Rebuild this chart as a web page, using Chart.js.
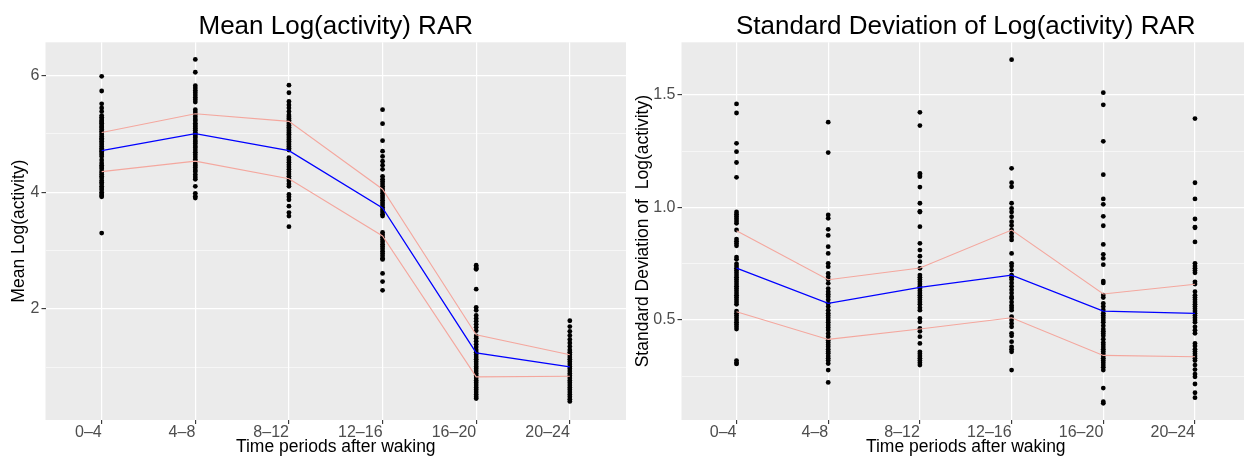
<!DOCTYPE html>
<html>
<head>
<meta charset="utf-8">
<script src="https://cdn.jsdelivr.net/npm/chart.js@4.4.0/dist/chart.umd.min.js"></script>
<style>
  html, body { margin:0; padding:0; background:#fff; overflow:hidden; width:1244px; height:456px; }
  .panel { position:absolute; top:0; height:456px; }
</style>
</head>
<body>
<div class="panel" style="left:0; width:630px;"><canvas id="meanChart" width="630" height="456"></canvas></div>
<div class="panel" style="left:630px; width:626px;"><canvas id="sdChart" width="626" height="456"></canvas></div>
<script>
// categories on the x axis
const periods = ['0–4', '4–8', '8–12', '12–16', '16–20', '20–24'];

// mean log(activity): one list of subject values per period
const meanDots = [
  [5.98,5.73,5.51,5.44,5.38,5.31,5.28,5.25,5.22,5.2,5.18,5.15,5.12,5.1,5.07,5.04,5.01,4.98,4.95,4.92,4.9,4.87,4.84,4.81,4.78,4.75,4.72,4.7,4.67,4.64,4.61,4.55,4.5,4.46,4.43,4.4,4.36,4.33,4.3,4.27,4.24,4.2,4.17,4.14,4.1,4.07,4.04,4.0,3.97,3.94,3.92,3.3],
  [6.27,6.05,5.82,5.78,5.74,5.7,5.66,5.62,5.58,5.54,5.41,5.37,5.33,5.29,5.25,5.22,5.18,5.15,5.12,5.09,5.06,5.02,4.99,4.96,4.93,4.89,4.86,4.83,4.79,4.76,4.72,4.68,4.64,4.6,4.56,4.52,4.48,4.45,4.42,4.38,4.35,4.3,4.26,4.22,4.1,3.98,3.93,3.9],
  [5.83,5.7,5.55,5.49,5.44,5.38,5.32,5.29,5.26,5.23,5.2,5.17,5.14,5.11,5.08,5.05,5.02,4.99,4.96,4.93,4.9,4.87,4.84,4.81,4.78,4.75,4.72,4.59,4.55,4.51,4.47,4.43,4.39,4.35,4.31,4.27,4.23,4.19,4.14,4.1,3.96,3.92,3.87,3.76,3.65,3.59,3.41],
  [5.41,5.17,4.88,4.7,4.61,4.53,4.46,4.39,4.27,4.22,4.18,4.14,4.1,4.06,4.02,3.98,3.94,3.9,3.86,3.82,3.78,3.74,3.7,3.66,3.62,3.59,3.31,3.27,3.23,3.19,3.15,3.11,3.07,3.03,2.99,2.95,2.91,2.87,2.85,2.61,2.47,2.32],
  [2.75,2.72,2.7,2.68,2.34,2.03,1.98,1.89,1.84,1.79,1.74,1.69,1.63,1.54,1.5,1.45,1.4,1.35,1.3,1.26,1.22,1.18,1.14,1.1,1.06,1.02,0.98,0.94,0.9,0.86,0.82,0.78,0.74,0.7,0.66,0.62,0.58,0.54,0.5,0.47],
  [1.8,1.7,1.62,1.55,1.48,1.42,1.36,1.3,1.26,1.22,1.18,1.14,1.1,1.06,1.02,0.98,0.94,0.9,0.86,0.82,0.78,0.74,0.7,0.66,0.62,0.58,0.54,0.5,0.46,0.42]
];
const meanAvg   = [4.71, 5.0, 4.71, 3.73, 1.25, 1.01];
const meanUpper = [5.02, 5.34, 5.21, 4.05, 1.56, 1.22];
const meanLower = [4.35, 4.53, 4.23, 3.25, 0.84, 0.85];
const meanTicks = [1, 2, 3, 4, 5, 6];

// standard deviation of log(activity)
const sdDots = [
  [1.46,1.42,1.285,1.248,1.2,1.134,0.98,0.97,0.96,0.95,0.94,0.93,0.9,0.86,0.85,0.84,0.83,0.78,0.77,0.75,0.74,0.73,0.72,0.71,0.7,0.69,0.68,0.67,0.66,0.65,0.64,0.63,0.62,0.61,0.6,0.59,0.58,0.57,0.54,0.53,0.52,0.51,0.5,0.49,0.48,0.47,0.46,0.32,0.31,0.305],
  [1.379,1.244,0.967,0.952,0.903,0.876,0.826,0.796,0.752,0.737,0.707,0.692,0.68,0.663,0.64,0.626,0.615,0.604,0.59,0.574,0.56,0.544,0.53,0.52,0.51,0.5,0.49,0.478,0.467,0.456,0.44,0.426,0.41,0.4,0.39,0.381,0.37,0.36,0.352,0.34,0.33,0.32,0.307,0.278,0.223],
  [1.423,1.364,1.152,1.145,1.137,1.091,1.019,0.983,0.98,0.915,0.841,0.811,0.784,0.759,0.73,0.7,0.69,0.68,0.67,0.66,0.65,0.64,0.63,0.62,0.61,0.6,0.59,0.58,0.57,0.555,0.544,0.507,0.492,0.463,0.45,0.426,0.396,0.359,0.35,0.34,0.33,0.32,0.31,0.3],
  [1.657,1.174,1.11,1.092,1.019,0.996,0.98,0.959,0.937,0.92,0.9,0.885,0.87,0.856,0.796,0.752,0.74,0.722,0.7,0.69,0.68,0.665,0.65,0.635,0.62,0.604,0.596,0.58,0.565,0.555,0.544,0.515,0.5,0.485,0.47,0.441,0.43,0.404,0.381,0.37,0.359,0.278],
  [1.51,1.456,1.294,1.146,1.038,1.014,0.961,0.919,0.836,0.792,0.774,0.746,0.673,0.665,0.611,0.6,0.574,0.56,0.545,0.53,0.52,0.51,0.5,0.49,0.475,0.46,0.45,0.44,0.43,0.415,0.4,0.39,0.38,0.37,0.36,0.35,0.34,0.33,0.32,0.31,0.3,0.29,0.278,0.198,0.137,0.13],
  [1.395,1.11,1.038,0.949,0.913,0.91,0.847,0.752,0.74,0.73,0.72,0.71,0.67,0.66,0.626,0.61,0.6,0.59,0.58,0.57,0.56,0.55,0.54,0.53,0.52,0.51,0.5,0.49,0.47,0.455,0.441,0.396,0.385,0.37,0.36,0.35,0.34,0.33,0.32,0.3,0.28,0.26,0.248,0.216,0.177,0.155]
];
const sdAvg   = [0.731, 0.574, 0.645, 0.70, 0.54, 0.53];
const sdUpper = [0.897, 0.679, 0.731, 0.90, 0.616, 0.659];
const sdLower = [0.537, 0.414, 0.46, 0.51, 0.343, 0.337];
const sdTicks = [0.25, 0.5, 0.75, 1.0, 1.25, 1.5];

const FONT = "'Liberation Sans', Arial, sans-serif";

const panelBg = {
  id: 'panelBg',
  beforeDraw(chart) {
    const a = chart.chartArea, ctx = chart.ctx;
    ctx.save();
    ctx.fillStyle = '#EBEBEB';
    ctx.fillRect(a.left, a.top, a.right - a.left, a.bottom - a.top);
    ctx.restore();
  }
};

function toPoints(cols) {
  const pts = [];
  cols.forEach((col, i) => col.forEach(v => pts.push({ x: i + 1, y: v })));
  return pts;
}
function toLine(vals) {
  return vals.map((v, i) => ({ x: i + 1, y: v }));
}

function make_chart(el, cfg) {
  const isMajor = v => cfg.majors.some(m => Math.abs(m - v) < 1e-9);
  return new Chart(document.getElementById(el), {
    data: {
      datasets: [
        { type: 'line', data: toLine(cfg.avg), borderColor: '#0000FF', borderWidth: 1.3, pointRadius: 0, order: 0 },
        { type: 'line', data: toLine(cfg.upper), borderColor: '#F4A79E', borderWidth: 1.1, pointRadius: 0, order: 0 },
        { type: 'line', data: toLine(cfg.lower), borderColor: '#F4A79E', borderWidth: 1.1, pointRadius: 0, order: 0 },
        { type: 'scatter', data: toPoints(cfg.dots), backgroundColor: '#000', borderWidth: 0, pointRadius: 2.4, order: 1 }
      ]
    },
    options: {
      responsive: false,
      animation: false,
      events: [],
      layout: { padding: { left: 0, right: cfg.padRight, top: 0, bottom: 0 } },
      plugins: {
        legend: { display: false },
        tooltip: { enabled: false },
        title: {
          display: true, text: cfg.title, fullSize: false, color: '#000',
          font: { family: FONT, size: 26, weight: 'normal', lineHeight: 1 },
          padding: { top: 14, bottom: 2.3 }
        }
      },
      scales: {
        x: {
          type: 'linear', min: 0.4, max: 6.6,
          afterBuildTicks: s => { s.ticks = periods.map((p, i) => ({ value: i + 1 })); },
          afterFit: s => { s.height = 36; },
          border: { display: false },
          grid: { color: '#FFFFFF', lineWidth: 1.2, tickColor: '#333333', tickLength: 4, tickWidth: 1.1 },
          ticks: {
            autoSkip: false, maxRotation: 0, padding: 1, color: '#4D4D4D', align: 'end',
            font: { family: FONT, size: 16, lineHeight: 1 },
            callback: v => periods[Math.round(v) - 1] || ''
          },
          title: {
            display: true, text: 'Time periods after waking', color: '#000',
            font: { family: FONT, size: 17.5, lineHeight: 1 }, padding: { top: 0, bottom: 0 }
          }
        },
        y: {
          type: 'linear', min: cfg.ymin, max: cfg.ymax,
          afterBuildTicks: s => { s.ticks = cfg.ticks.map(v => ({ value: v })); },
          afterFit: s => { s.width = cfg.yWidth; },
          border: { display: false },
          grid: {
            color: '#FFFFFF',
            lineWidth: c => (c.tick && isMajor(c.tick.value)) ? 1.2 : 0.55,
            tickColor: c => (c.tick && isMajor(c.tick.value)) ? '#333333' : 'rgba(0,0,0,0)',
            tickLength: 4, tickWidth: 1.1
          },
          ticks: {
            autoSkip: false, padding: 2, color: '#4D4D4D',
            font: { family: FONT, size: 16, lineHeight: 1 },
            callback: v => isMajor(v) ? cfg.fmt(v) : ''
          },
          title: {
            display: true, text: cfg.ytitle, color: '#000',
            font: { family: FONT, size: 17.5, lineHeight: 1 }, padding: { top: cfg.ytitlePad, bottom: 0 }
          }
        }
      }
    },
    plugins: [panelBg]
  });
}

make_chart('meanChart', {
  title: 'Mean Log(activity) RAR',
  ytitle: 'Mean Log(activity)',
  dots: meanDots, avg: meanAvg, upper: meanUpper, lower: meanLower,
  ticks: meanTicks, majors: [2, 4, 6], fmt: v => String(v),
  ymin: 0.103, ymax: 6.5625, yWidth: 45.5, ytitlePad: 10, padRight: 4
});

make_chart('sdChart', {
  title: 'Standard Deviation of Log(activity) RAR',
  ytitle: 'Standard Deviation of  Log(activity)',
  dots: sdDots, avg: sdAvg, upper: sdUpper, lower: sdLower,
  ticks: sdTicks, majors: [0.5, 1.0, 1.5], fmt: v => v.toFixed(1),
  ymin: 0.056, ymax: 1.734, yWidth: 51.5, ytitlePad: 4, padRight: 6
});
</script>
</body>
</html>
